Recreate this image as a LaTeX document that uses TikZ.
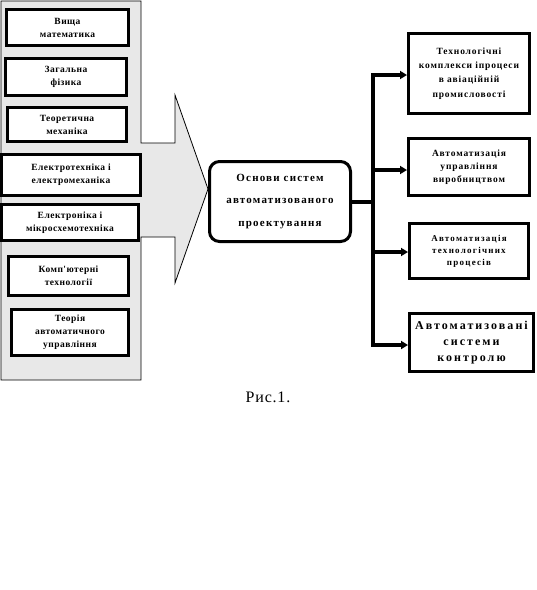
\documentclass[tikz,border=0pt]{standalone}
\usepackage{fontspec}
\setmainfont{Liberation Serif}
\newfontfamily\lfont[LetterSpace=5]{Liberation Serif Bold}
\newfontfamily\cfont[LetterSpace=11]{Liberation Serif Bold}
\newfontfamily\rfont[LetterSpace=9]{Liberation Serif Bold}
\newfontfamily\sfont[LetterSpace=14]{Liberation Serif Bold}
\newfontfamily\qfont[LetterSpace=17]{Liberation Serif Bold}
\newfontfamily\capfont[LetterSpace=5]{Liberation Serif}
\usetikzlibrary{arrows.meta}
\definecolor{panelgray}{RGB}{232,232,232}
\tikzset{
  panel/.style={draw=black,line width=0.8pt,fill=panelgray},
  boxbase/.style={draw=black,line width=3pt,fill=white,align=center,inner sep=0pt},
  lbox/.style={boxbase,font=\lfont\fontsize{9.5}{13}\selectfont},
  cbox/.style={boxbase,rounded corners=10pt,font=\cfont\fontsize{11}{22.5}\selectfont},
  rbox/.style={boxbase,font=\rfont\fontsize{9.5}{14.3}\selectfont},
  r2box/.style={boxbase,font=\rfont\fontsize{9.5}{13}\selectfont},
  r3box/.style={boxbase,font=\sfont\fontsize{9}{12}\selectfont},
  qbox/.style={boxbase,font=\qfont\fontsize{12}{16}\selectfont},
  trunk/.style={draw=black,line width=4pt},
  feed/.style={draw=black,line width=3.5pt},
  branch/.style={draw=black,line width=3.5pt,-{Triangle[length=7pt,width=8pt]}},
  caption/.style={font=\capfont\fontsize{16}{18}\selectfont,inner sep=0pt}
}
\begin{document}
\begin{tikzpicture}[x=1pt,y=-1pt]
\useasboundingbox (0,0) rectangle (537,590);
% gray panel with the big arrow
\draw[panel] (1,1) -- (141,1) -- (141,143) -- (175,143) -- (175,95) -- (208,189)
  -- (175,283) -- (175,237) -- (141,237) -- (141,380) -- (1,380) -- cycle;
% left boxes
\node[lbox,minimum width=122pt,minimum height=36pt] (a) at (67.5,27.5) {Вища\\математика};
\node[lbox,minimum width=121pt,minimum height=37pt] (b) at (66,77) {Загальна\\фізика};
\node[lbox,minimum width=119pt,minimum height=34pt] (c) at (67,124.5) {Теоретична\\механіка};
\node[lbox,minimum width=139pt,minimum height=41pt] (d) at (71,175) {Електротехніка і\\електромеханіка};
\node[lbox,minimum width=137pt,minimum height=36pt] (e) at (70,222.5) {Електроніка і\\мікросхемотехніка};
\node[lbox,minimum width=120pt,minimum height=39pt] (f) at (68.5,276) {Комп'ютерні\\технології};
\node[lbox,minimum width=117pt,minimum height=46pt] (g) at (70,332.5) {Теорія\\автоматичного\\управління};
% central box
\node[cbox,minimum width=141pt,minimum height=80pt] (m) at (280,201.5) {Основи систем\\автоматизованого\\проектування};
% right boxes
\node[rbox,minimum width=121pt,minimum height=80pt] (r1) at (469,73.5) {Технологічні\\комплекси іпроцеси\\в авіаційній\\промисловості};
\node[r2box,minimum width=121pt,minimum height=57pt] (r2) at (469,167) {Автоматизація\\управління\\виробництвом};
\node[r3box,minimum width=119pt,minimum height=55pt] (r3) at (469,251) {Автоматизація\\технологічних\\процесів};
\node[qbox,minimum width=124pt,minimum height=58pt] (r4) at (471.5,342.5) {Автоматизовані\\системи\\контролю};
% connectors
\coordinate (t1) at (373,75);
\coordinate (t2) at (373,170);
\coordinate (t3) at (373,252);
\coordinate (t4) at (373,345);
\coordinate (tm) at (373,202);
\draw[trunk] ([yshift=2pt]t1) -- ([yshift=-2pt]t4);
\draw[feed] (m.east |- tm) -- (tm);
\draw[branch] (t1) -- (t1 -| r1.west);
\draw[branch] (t2) -- (t2 -| r2.west);
\draw[branch] (t3) -- (t3 -| r3.west);
\draw[branch] (t4) -- (t4 -| r4.west);
% caption
\node[caption] (cap) at (268,397) {Рис.1.};
\end{tikzpicture}
\end{document}
